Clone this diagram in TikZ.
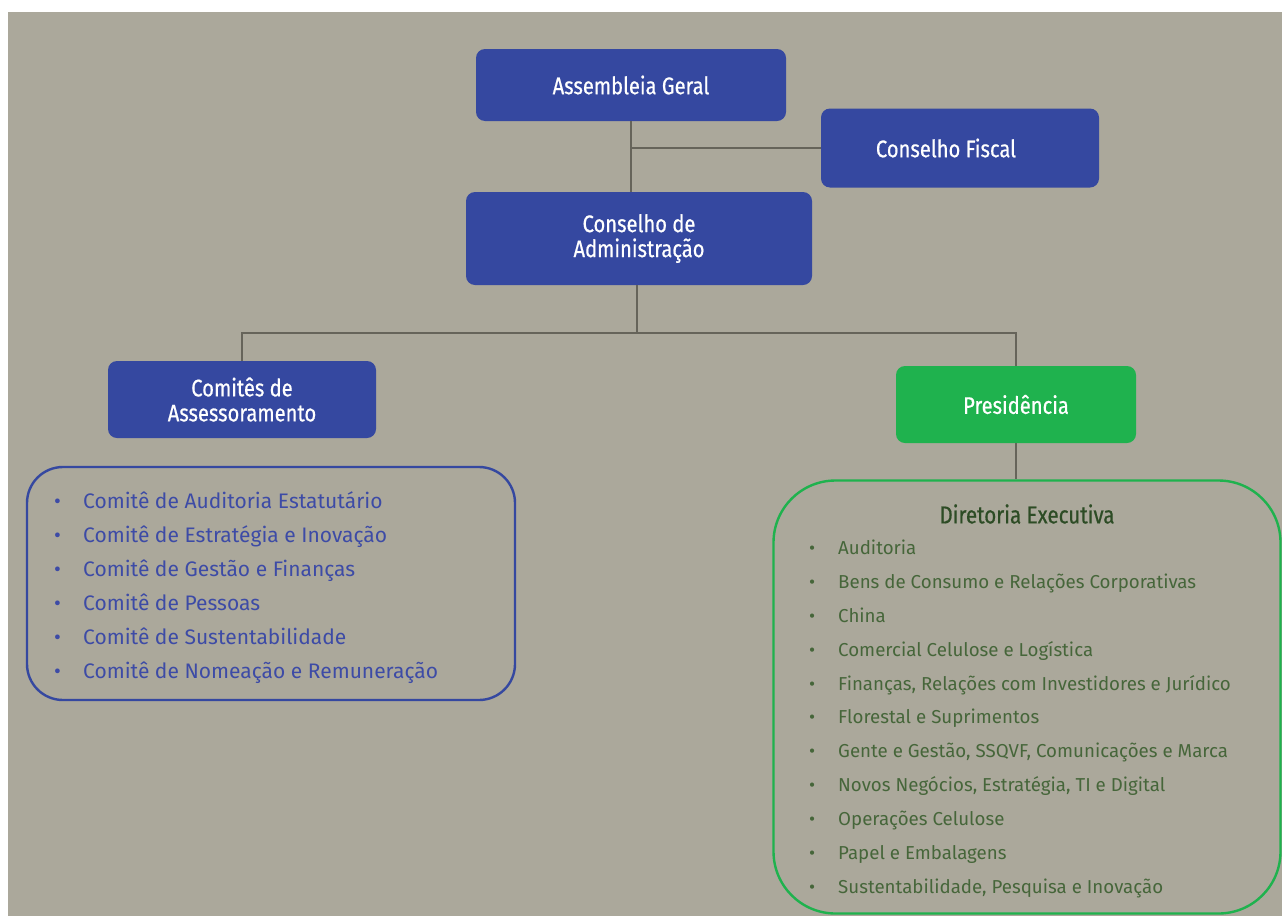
\documentclass[tikz,border=0pt]{standalone}
\usepackage{fontspec}
\setmainfont{Fira Sans}
\newfontfamily\condfont[FakeStretch=0.84,FakeBold=0.6]{Fira Sans}
\definecolor{bggray}{HTML}{ABA89B}
\definecolor{boxblue}{HTML}{3548A0}
\definecolor{boxgreen}{HTML}{1FB24E}
\definecolor{linegray}{HTML}{66645A}
\definecolor{listblue}{HTML}{3D4BA6}
\definecolor{listgreen}{HTML}{46663A}
\definecolor{titlegreen}{HTML}{2D4C25}
\tikzset{
  orgbox/.style={fill=boxblue, rounded corners=9pt, text=white, align=center,
    inner sep=0pt, font=\condfont\fontsize{24}{25}\selectfont},
  greenbox/.style={orgbox, fill=boxgreen},
  conn/.style={draw=linegray, line width=2.8pt},
  listframe/.style={rounded corners=#1, line width=2.4pt, inner sep=0pt},
  blueitem/.style={anchor=base west, text=listblue, inner sep=0pt, font=\fontsize{21}{24}\selectfont},
  greenitem/.style={anchor=base west, text=listgreen, inner sep=0pt, font=\fontsize{18.7}{22}\selectfont},
}
\begin{document}
\begin{tikzpicture}[x=1pt,y=-1pt]
\useasboundingbox (0,0) rectangle (1282,916);
\fill[white] (0,0) rectangle (1282,916);
\fill[bggray] (8,12) rectangle (1282,916);

\node[orgbox, minimum width=310pt, minimum height=72pt] (ag) at (631,85) {Assembleia Geral};
\node[orgbox, minimum width=278pt, minimum height=79pt] (cf) at (960,148) {Conselho Fiscal\hspace*{28pt}};
\node[orgbox, minimum width=346pt, minimum height=93pt] (ca) at (639,238.5) {Conselho de\\Administração};
\node[orgbox, minimum width=268pt, minimum height=77pt] (ct) at (242,399.5) {Comitês de\\Assessoramento};
\node[greenbox, minimum width=240pt, minimum height=77pt] (pr) at (1016,404.5) {Presidência};

\node[listframe=36pt, draw=boxblue, minimum width=488pt, minimum height=233pt] (cl) at (271,583.5) {};
\node[listframe=62pt, draw=boxgreen, minimum width=507pt, minimum height=433pt] (de) at (1027,697) {};

\coordinate (bus) at (637,333);
\draw[conn] (ag.south) -- (ag.south |- ca.north);
\draw[conn] (ag.south |- cf.west) -- (cf.west);
\draw[conn] (ca.south -| bus) -- (bus);
\draw[conn] (ct.north) -- (ct.north |- bus) -- (pr.north |- bus) -- (pr.north);
\draw[conn] (pr.south) -- (pr.south |- de.north);

\foreach \t [count=\i] in {Comitê de Auditoria Estatutário, Comitê de Estratégia e Inovação, Comitê de Gestão e Finanças, Comitê de Pessoas, Comitê de Sustentabilidade, Comitê de Nomeação e Remuneração}{
  \node[blueitem] (cb\i) at (54,474+34*\i) {•};
  \node[blueitem] (ci\i) at (83,474+34*\i) {\t};
}

\node[text=titlegreen, inner sep=0pt, font=\condfont\fontsize{24.5}{26}\selectfont] (dt) at (1027,514) {Diretoria Executiva};
\foreach \t [count=\i] in {Auditoria, Bens de Consumo e Relações Corporativas, China, Comercial Celulose e Logística, {Finanças, Relações com Investidores e Jurídico}, Florestal e Suprimentos, {Gente e Gestão, SSQVF, Comunicações e Marca}, {Novos Negócios, Estratégia, TI e Digital}, Operações Celulose, Papel e Embalagens, {Sustentabilidade, Pesquisa e Inovação}}{
  \node[greenitem] (db\i) at (809,520.5+33.9*\i) {•};
  \node[greenitem] (di\i) at (838,520.5+33.9*\i) {\t};
}
\end{tikzpicture}
\end{document}
